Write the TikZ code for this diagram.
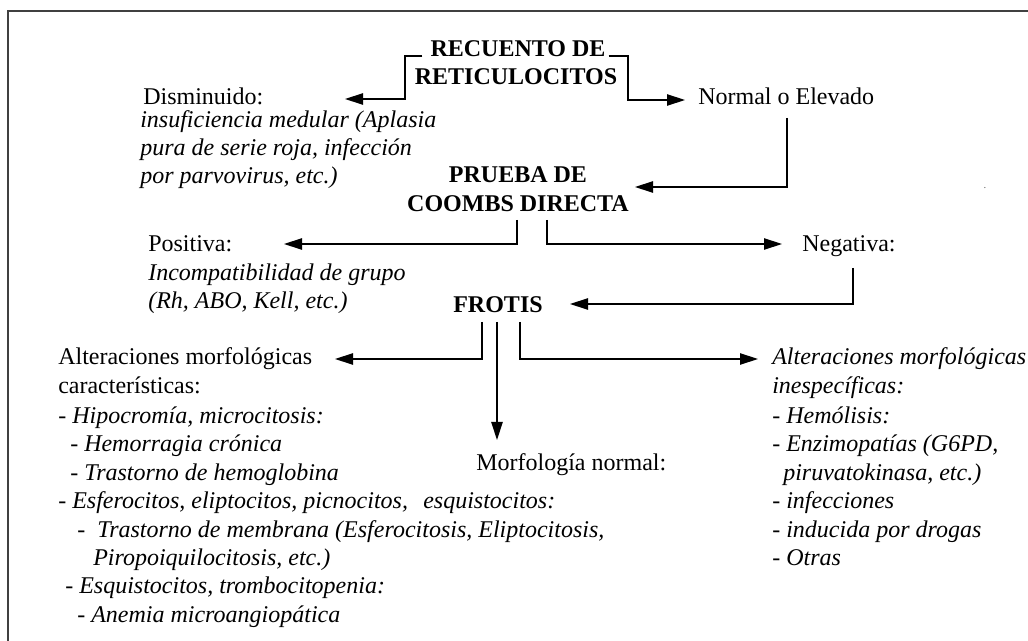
\documentclass[tikz,border=0pt]{standalone}
\usepackage{fontspec}
\setmainfont{Liberation Serif}
\usetikzlibrary{arrows.meta}
\begin{document}
\begin{tikzpicture}[x=0.75pt,y=-0.75pt,
  txt/.style={anchor=base west,inner sep=0pt,font=\fontsize{18}{21.4}\selectfont},
  itx/.style={anchor=base west,inner sep=0pt,font=\fontsize{18}{21.4}\selectfont\itshape},
  ttl/.style={anchor=base,inner sep=0pt,font=\fontsize{18}{21.4}\selectfont\bfseries},
  conn/.style={line width=1pt,line join=miter},
  arr/.style={conn,-{Triangle[length=13.5pt,width=8.5pt]}},
  frame/.style={line width=1.5pt,draw=black!75}]
\useasboundingbox (0,0) rectangle (1028,641);
\draw[frame] (8,641) -- (8,11) -- (1028,11);

% title
\node[ttl] (rec1) at (518,57) {RECUENTO DE};
\node[ttl] (rec2) at (516,85) {RETICULOCITOS};
\coordinate (tl) at (405,99);
\coordinate (tipDis) at (345,99);
\coordinate (tr) at (628,100);
\coordinate (tipNor) at (685,100);
\draw[arr] ([shift={(-8,-1)}]rec1.base west) -| (tl) -- (tipDis);
\draw[arr] ([shift={(3,-1)}]rec1.base east) -| (tr) -- (tipNor);

% Disminuido
\node[txt] (dis) at (143,105) {Disminuido:};
\node[itx] (dis1) at (140,128) {insuficiencia medular (Aplasia};
\node[itx] (dis2) at (140,156) {pura de serie roja, infección};
\node[itx] (dis3) at (140,184) {por parvovirus, etc.)};

% Normal o elevado
\node[txt] (nor) at (698,105) {Normal o Elevado};
\coordinate (n1) at (787,118);
\coordinate (tipPru) at (635,187);
\draw[arr] (n1) |- (tipPru);

% Coombs
\node[ttl] (pru1) at (518,183) {PRUEBA DE};
\node[ttl] (pru2) at (518,212) {COOMBS DIRECTA};
\coordinate (c1) at (517,220);
\coordinate (c2) at (547,220);
\coordinate (tipPos) at (284,244);
\coordinate (tipNeg) at (782,244);
\draw[arr] (c1) |- (tipPos);
\draw[arr] (c2) |- (tipNeg);

\node[txt] (pos) at (148,252) {Positiva:};
\node[itx] (pos1) at (148,281) {Incompatibilidad de grupo};
\node[itx] (pos2) at (148,309) {(Rh, ABO, Kell, etc.)};

\node[txt] (neg) at (802,252) {Negativa:};
\coordinate (g1) at (853,268);
\coordinate (tipFro) at (570,304);
\draw[arr] (g1) |- (tipFro);

% Frotis
\node[ttl] (fro) at (498,313) {FROTIS};
\coordinate (f1) at (482,322);
\coordinate (f2) at (497,322);
\coordinate (f3) at (520,322);
\coordinate (tipAlt) at (335,359);
\coordinate (tipMor) at (497,440);
\coordinate (tipIne) at (758,359);
\draw[arr] (f1) |- (tipAlt);
\draw[arr] (f2) -- (tipMor);
\draw[arr] (f3) |- (tipIne);

% left column
\node[txt] (a1) at (58,365) {Alteraciones morfológicas};
\node[txt] (a2) at (58,394) {características:};
\node[itx] (a3) at (58,423) {- Hipocromía, microcitosis:};
\node[itx] (a4) at (70,451) {- Hemorragia crónica};
\node[itx] (a5) at (70,480) {- Trastorno de hemoglobina};
\node[itx] (a6) at (58,508) {- Esferocitos, eliptocitos, picnocitos,};
\node[itx] (a6b) at (423,508) {esquistocitos:};
\node[itx] (a7) at (77,537) {-\hspace{9pt}Trastorno de membrana (Esferocitosis, Eliptocitosis,};
\node[itx] (a8) at (93,565) {Piropoiquilocitosis, etc.)};
\node[itx] (a9) at (65,593) {- Esquistocitos, trombocitopenia:};
\node[itx] (a10) at (77,622) {- Anemia microangiopática};

% centre
\node[txt] (mor) at (476,470) {Morfología normal:};

% right column
\node[itx] (b1) at (772,365) {Alteraciones morfológicas};
\node[itx] (b2) at (772,394) {inespecíficas:};
\node[itx] (b3) at (772,423) {- Hemólisis:};
\node[itx] (b4) at (772,451) {- Enzimopatías (G6PD,};
\node[itx] (b5) at (783,480) {piruvatokinasa, etc.)};
\node[itx] (b6) at (772,508) {- infecciones};
\node[itx] (b7) at (772,537) {- inducida por drogas};
\node[itx] (b8) at (772,565) {- Otras};

\node[inner sep=0pt,font=\fontsize{8}{8}\selectfont,text=black!60] (dot) at (985,188) {.};
\end{tikzpicture}
\end{document}
